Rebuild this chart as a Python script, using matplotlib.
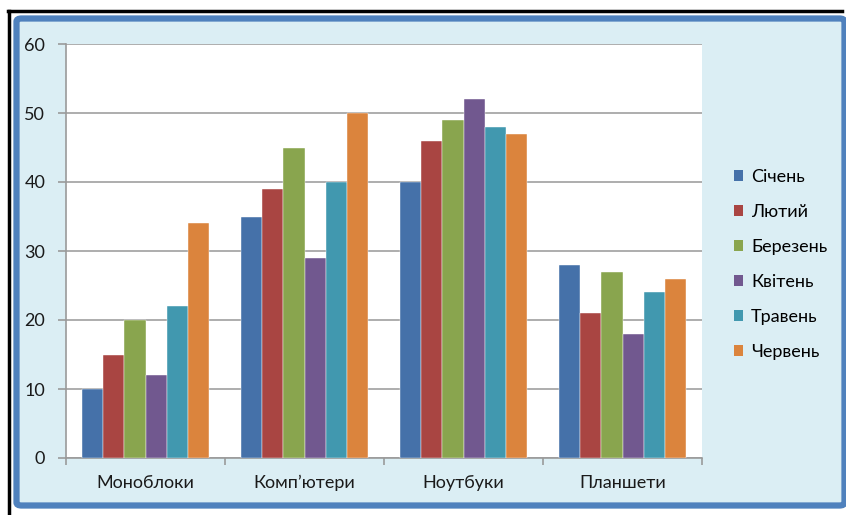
import matplotlib
matplotlib.use("Agg")
import matplotlib.pyplot as plt
import numpy as np
from matplotlib.patches import FancyBboxPatch, Patch
from matplotlib.lines import Line2D

categories = ["Моноблоки", "Комп’ютери", "Ноутбуки", "Планшети"]
series_names = ["Січень", "Лютий", "Березень", "Квітень", "Травень", "Червень"]
sichen = [10, 35, 40, 28]
lyutyi = [15, 39, 46, 21]
berezen = [20, 45, 49, 27]
kviten = [12, 29, 52, 18]
traven = [22, 40, 48, 24]
cherven = [34, 50, 47, 26]
series_values = [sichen, lyutyi, berezen, kviten, traven, cherven]
colors = ["#4571A9", "#A94542", "#89A54E", "#71588F", "#4198AF", "#DB843D"]
yticks = [0, 10, 20, 30, 40, 50, 60]

plt.rcParams['font.family'] = ['Lato', 'DejaVu Sans']

W, H = 846, 515
fig = plt.figure(figsize=(W / 100, H / 100), dpi=100)
fig.patch.set_facecolor("white")

# background box
bg = FancyBboxPatch((16.5 / W, 9.5 / H), (828 / W), (487 / H),
                    boxstyle="round,pad=0,rounding_size=0.006",
                    transform=fig.transFigure, facecolor="#DBEEF4",
                    edgecolor="#4F81BD", linewidth=4.5, zorder=-5)
fig.patches.append(bg)
# black frame lines
fig.add_artist(Line2D([7.5 / W, 842 / W], [1 - 10.5 / H, 1 - 10.5 / H],
                      transform=fig.transFigure, color="black", lw=2.5,
                      zorder=-4))
fig.add_artist(Line2D([8.5 / W, 8.5 / W], [0, 1 - 10.5 / H],
                      transform=fig.transFigure, color="black", lw=2.5,
                      zorder=-4))

ax = fig.add_axes([66 / W, (H - 458) / H, (702 - 66) / W, (458 - 44) / H])
ax.set_zorder(2)
ax.set_facecolor("white")

n = len(series_names)
bw = 1 / 7.5
x = np.arange(len(categories))
for i, (name, vals, c) in enumerate(zip(series_names, series_values, colors)):
    ax.bar(x + (i - (n - 1) / 2) * bw, vals, width=bw, color=c, label=name,
           zorder=3, edgecolor="white", linewidth=0.3)

ax.set_xlim(-0.5, len(categories) - 0.5)
ax.set_ylim(0, 60)
ax.set_yticks(yticks)
ax.set_yticklabels([str(v) for v in yticks])
ax.yaxis.grid(True, color="#A0A0A0", linewidth=1.2, zorder=0)
ax.set_axisbelow(True)
for s in ["top", "right"]:
    ax.spines[s].set_visible(False)
for s in ["left", "bottom"]:
    ax.spines[s].set_color("#9A9A9A")
    ax.spines[s].set_linewidth(1.2)
ax.tick_params(axis="y", length=6, color="#9A9A9A", width=1.2, labelsize=13,
               pad=9, labelcolor="#1A1A1A")
ax.set_xticks(np.arange(len(categories) + 1) - 0.5, minor=False)
ax.set_xticklabels([])
ax.set_xticks(x, minor=True)
ax.set_xticklabels(categories, minor=True)
ax.tick_params(axis="x", which="major", length=5, color="#9A9A9A", width=1.2)
ax.tick_params(axis="x", which="minor", length=0, labelsize=13, pad=12,
               labelcolor="#1A1A1A")

handles = [Patch(facecolor=c, edgecolor="none") for c in colors]
leg = fig.legend(handles, series_names, loc="upper left",
                 bbox_to_anchor=(725 / W, 1 - 160 / H), frameon=False,
                 fontsize=13, handlelength=0.5, handleheight=0.5,
                 handletextpad=0.45, labelspacing=1.05, borderpad=0)
leg.set_zorder(3)

fig.savefig("out.png", dpi=100)
